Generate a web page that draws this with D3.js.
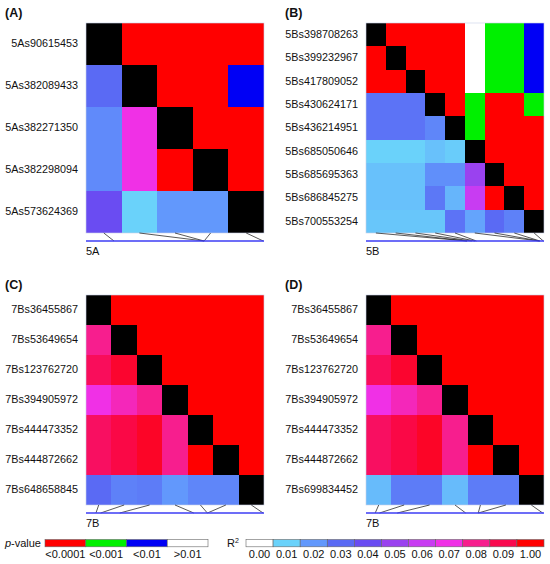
<!DOCTYPE html>
<html lang="en">
<head>
<meta charset="UTF-8">
<title>LD heatmaps</title>
<script src="https://cdn.jsdelivr.net/npm/d3@7"></script>
<style>
  body { margin: 0; background: #fff; }
  text { font-family: "Liberation Sans", Arial, sans-serif; fill: #111; }
</style>
</head>
<body>
<svg id="fig" width="550" height="564"></svg>
<script>
// ---- data ----
// p-value classes: 0 <0.0001, 1 <0.001, 2 <0.01, 3 >0.01 (upper triangle, row i holds cols i+1..n-1)
// R2 values (lower triangle, row i holds cols 0..i-1)
const snpsA = ["5As90615453", "5As382089433", "5As382271350", "5As382298094", "5As573624369"];
const posA = [90615453, 382089433, 382271350, 382298094, 573624369];
const pA = [[0, 0, 0, 0], [0, 0, 2], [0, 0], [0], []];
const r2A = [[], [0.03], [0.023, 0.07], [0.023, 0.07, 0.5], [0.04, 0.01, 0.02, 0.02]];

const snpsB = ["5Bs398708263", "5Bs399232967", "5Bs417809052", "5Bs430624171", "5Bs436214951",
               "5Bs685050646", "5Bs685695363", "5Bs686845275", "5Bs700553254"];
const posB = [398708263, 399232967, 417809052, 430624171, 436214951, 685050646, 685695363, 686845275, 700553254];
const pB = [[0, 0, 0, 0, 3, 1, 1, 2], [0, 0, 0, 3, 1, 1, 2], [0, 0, 3, 1, 1, 2], [0, 1, 0, 0, 1],
            [1, 0, 0, 0], [0, 0, 0], [0, 0], [0], []];
const r2B = [[], [0.5], [0.5, 0.5], [0.028, 0.028, 0.028], [0.028, 0.028, 0.028, 0.024],
             [0.01, 0.01, 0.01, 0.013, 0.011],
             [0.013, 0.013, 0.013, 0.022, 0.022, 0.05],
             [0.013, 0.013, 0.013, 0.027, 0.015, 0.06, 0.5],
             [0.012, 0.012, 0.012, 0.012, 0.028, 0.018, 0.03, 0.025]];

const snpsC = ["7Bs36455867", "7Bs53649654", "7Bs123762720", "7Bs394905972", "7Bs444473352", "7Bs444872662", "7Bs648658845"];
const posC = [36455867, 53649654, 123762720, 394905972, 444473352, 444872662, 648658845];
const pC = [[0, 0, 0, 0, 0, 0], [0, 0, 0, 0, 0], [0, 0, 0, 0], [0, 0, 0], [0, 0], [0], []];
const r2C = [[], [0.08], [0.088, 0.094], [0.07, 0.075, 0.08], [0.087, 0.091, 0.095, 0.08],
             [0.087, 0.091, 0.095, 0.08, 0.5], [0.03, 0.025, 0.026, 0.02, 0.024, 0.024]];

const snpsD = ["7Bs36455867", "7Bs53649654", "7Bs123762720", "7Bs394905972", "7Bs444473352", "7Bs444872662", "7Bs699834452"];
const posD = [36455867, 53649654, 123762720, 394905972, 444473352, 444872662, 699834452];
const pD = [[0, 0, 0, 0, 0, 0], [0, 0, 0, 0, 0], [0, 0, 0, 0], [0, 0, 0], [0, 0], [0], []];
const r2D = [[], [0.08], [0.088, 0.094], [0.07, 0.075, 0.08], [0.087, 0.091, 0.095, 0.08],
             [0.087, 0.091, 0.095, 0.08, 0.5], [0.014, 0.026, 0.026, 0.014, 0.026, 0.026]];

// estimated extent of the physical map line under each heatmap
const mapLen = [576e6, 703e6, 652e6, 705e6];

const pLabels = ["<0.0001", "<0.001", "<0.01", ">0.01"];
const pColors = ["#ff0000", "#00f000", "#0000f5", "#ffffff"];
const r2Labels = ["0.00", "0.01", "0.02", "0.03", "0.04", "0.05", "0.06", "0.07", "0.08", "0.09", "1.00"];
const r2Stops = [0, 0.01, 0.02, 0.03, 0.04, 0.05, 0.06, 0.07, 0.08, 0.09, 0.10];
const r2Colors = ["#ffffff", "#6ad2fa", "#6298fc", "#5a6af4", "#6a4cf2", "#9a42ef", "#c83cf2",
                  "#f030e6", "#f71e8e", "#f9094e", "#ff0000"];

// ---- drawing ----
const svg = d3.select("#fig");
const r2Color = d3.scaleLinear().domain(r2Stops).range(r2Colors).clamp(true);

const panels = [
  { tag: "(A)", chrom: "5A", snps: snpsA, pos: posA, p: pA, r2: r2A, len: mapLen[0], x0: 86, y0: 23, tx: 5, ty: 17 },
  { tag: "(B)", chrom: "5B", snps: snpsB, pos: posB, p: pB, r2: r2B, len: mapLen[1], x0: 366, y0: 23, tx: 285, ty: 17 },
  { tag: "(C)", chrom: "7B", snps: snpsC, pos: posC, p: pC, r2: r2C, len: mapLen[2], x0: 86, y0: 295, tx: 5, ty: 289 },
  { tag: "(D)", chrom: "7B", snps: snpsD, pos: posD, p: pD, r2: r2D, len: mapLen[3], x0: 366, y0: 295, tx: 285, ty: 289 }
];
const W = 178, H = 210;

panels.forEach(pn => {
  const g = svg.append("g");
  const n = pn.snps.length;
  const x = d3.scaleBand().domain(pn.snps).range([pn.x0, pn.x0 + W]);
  const y = d3.scaleBand().domain(pn.snps).range([pn.y0, pn.y0 + H]);
  const mx = d3.scaleLinear().domain([0, pn.len]).range([pn.x0, pn.x0 + W]);

  // cells
  let cells = [];
  for (let i = 0; i < n; i++) {
    for (let j = 0; j < n; j++) {
      let fill;
      if (i == j) fill = "#000";
      else if (j > i) fill = pColors[pn.p[i][j - i - 1]];
      else fill = r2Color(pn.r2[i][j]);
      cells.push({ r: pn.snps[i], c: pn.snps[j], fill: fill });
    }
  }
  g.selectAll("rect.cell").data(cells).enter()
    .append("rect")
    .attr("class", "cell")
    .attr("x", d => x(d.c))
    .attr("y", d => y(d.r))
    .attr("width", x.bandwidth() + 0.4)
    .attr("height", y.bandwidth() + 0.4)
    .attr("fill", d => d.fill)
    .attr("shape-rendering", "crispEdges");

  g.append("rect")
    .attr("x", pn.x0).attr("y", pn.y0).attr("width", W).attr("height", H)
    .attr("fill", "none").attr("stroke", "#c8d0e8").attr("stroke-width", 0.6);

  // row labels
  const ax = g.append("g")
    .attr("transform", `translate(${pn.x0},0)`)
    .call(d3.axisLeft(y).tickSize(0).tickPadding(8));
  ax.select(".domain").remove();
  ax.selectAll("text").attr("font-size", 10.8).attr("font-family", "Liberation Sans, Arial, sans-serif").attr("fill", "#111");

  // physical map line and connectors
  const yb = pn.y0 + H, yl = yb + 8;
  g.selectAll("line.conn").data(pn.snps).enter()
    .append("line")
    .attr("x1", d => x(d) + x.bandwidth() / 2)
    .attr("y1", yb)
    .attr("x2", (d, i) => mx(pn.pos[i]))
    .attr("y2", yl)
    .attr("stroke", "#111").attr("stroke-width", 0.7);
  g.append("line")
    .attr("x1", mx(0)).attr("x2", mx(pn.len))
    .attr("y1", yl).attr("y2", yl)
    .attr("stroke", "#3c3cf5").attr("stroke-width", 1.3);

  g.append("text").attr("x", pn.x0).attr("y", yl + 14)
    .attr("font-size", 11).text(pn.chrom);

  g.append("text").attr("x", pn.tx).attr("y", pn.ty)
    .attr("font-size", 12.5).attr("font-weight", "bold").text(pn.tag);
});

// ---- legends ----
const legY = 539.5, legH = 7.3;
const pxl = d3.scaleBand().domain(pLabels).range([45, 208]);
const lg = svg.append("g");
lg.append("text").attr("x", 41).attr("y", 547).attr("text-anchor", "end").attr("font-size", 11)
  .html('<tspan font-style="italic">p</tspan>-value');
lg.selectAll("rect.pleg").data(pLabels).enter()
  .append("rect")
  .attr("x", d => pxl(d)).attr("y", legY)
  .attr("width", pxl.bandwidth()).attr("height", legH)
  .attr("fill", (d, i) => pColors[i])
  .attr("stroke", "#666").attr("stroke-width", 0.6);
lg.selectAll("text.plab").data(pLabels).enter()
  .append("text")
  .attr("x", d => pxl(d) + pxl.bandwidth() / 2).attr("y", 558)
  .attr("text-anchor", "middle").attr("font-size", 11)
  .text(d => d);

const rxl = d3.scaleBand().domain(r2Labels).range([246, 544]);
lg.append("text").attr("x", 227).attr("y", 547).attr("font-size", 11)
  .html('R<tspan font-size="7" dy="-4">2</tspan>');
lg.selectAll("rect.rleg").data(r2Labels).enter()
  .append("rect")
  .attr("x", d => rxl(d)).attr("y", legY)
  .attr("width", rxl.bandwidth()).attr("height", legH)
  .attr("fill", (d, i) => r2Colors[i])
  .attr("stroke", "#666").attr("stroke-width", 0.6);
lg.selectAll("text.rlab").data(r2Labels).enter()
  .append("text")
  .attr("x", d => rxl(d) + rxl.bandwidth() / 2).attr("y", 558)
  .attr("text-anchor", "middle").attr("font-size", 11)
  .text(d => d);
</script>
</body>
</html>
